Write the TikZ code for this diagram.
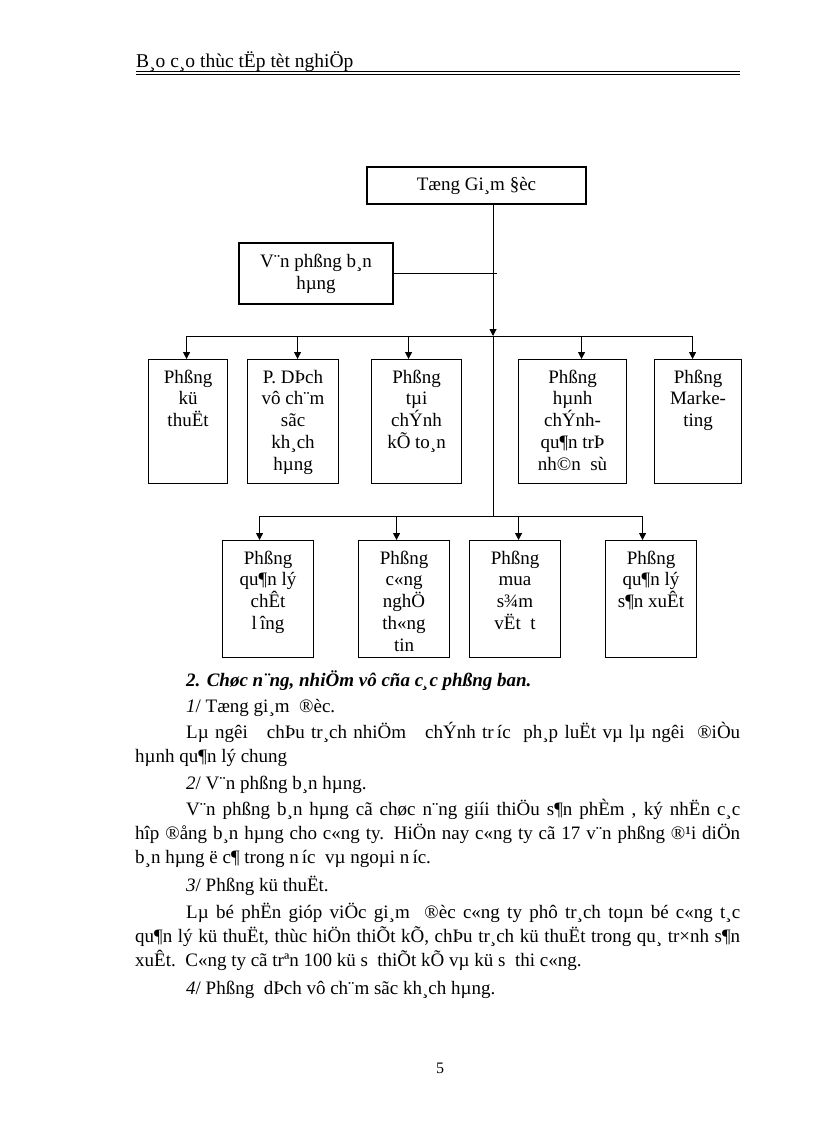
\documentclass[tikz,border=0pt]{standalone}
\usepackage{fontspec}
\setmainfont{Liberation Serif}
\usetikzlibrary{arrows.meta, positioning}

\newcommand{\boxfont}{\fontsize{19}{21.8}\selectfont}
\newcommand{\bodyfont}{\fontsize{19}{24}\selectfont}
% top-aligned text inside a fixed box
\newcommand{\cell}[3]{\parbox[c][#2][t]{#1}{\centering\vspace*{8.2pt}\strut #3\par}}

\begin{document}
\begin{tikzpicture}[x=1pt, y=-1pt,
    orgbox/.style = {draw, line width=1.1pt, inner sep=0pt, font=\boxfont, anchor=north west},
    headbox/.style = {draw, line width=1.1pt, inner sep=0pt, font=\boxfont, align=center},
    arr/.style    = {-{Triangle[length=7pt, width=7pt]}, line width=1pt},
    link/.style   = {line width=1pt},
    txt/.style    = {anchor=base west, inner sep=0pt, font=\bodyfont}
  ]
  \useasboundingbox (0,0) rectangle (816,1123);

  % ── Page header ───────────────────────────────────────────────────────────
  \node[txt, font=\fontsize{19.5}{24}\selectfont] (hdr) at (136,68) {B¸o c¸o thùc tËp tèt nghiÖp};
  \draw[line width=1.6pt] (136,71.5) -- (740,71.5);
  \draw[line width=0.8pt] (136,74.5) -- (740,74.5);

  % ── Top level ─────────────────────────────────────────────────────────────
  \node[headbox, minimum width=219pt, minimum height=37pt] (gd)   at (476.5,185.5) {Tæng Gi¸m §èc};
  \node[headbox, minimum width=154pt, minimum height=61pt] (vpbh) at (316,273.5)   {V¨n phßng b¸n\\hµng};

  % ── First row of departments ──────────────────────────────────────────────
  \node[orgbox] (kythuat)   at (148,359) {\cell{79pt}{124pt}{Phßng\\kü\\thuËt}};
  \node[orgbox] (dichvu)    at (247,359) {\cell{91pt}{124pt}{P. DÞch\\vô ch¨m\\sãc\\kh¸ch\\hµng}};
  \node[orgbox] (taichinh)  at (371,359) {\cell{90pt}{124pt}{Phßng\\tµi\\chÝnh\\kÕ to¸n}};
  \node[orgbox] (hanhchinh) at (518,359) {\cell{108pt}{124pt}{Phßng\\hµnh\\chÝnh-\\qu¶n trÞ\\nh©n\ \ sù}};
  \node[orgbox] (marketing) at (654,359) {\cell{87pt}{124pt}{Phßng\\Marke-\\ting}};

  % ── Second row of departments ─────────────────────────────────────────────
  \node[orgbox] (chatluong) at (222,540) {\cell{91pt}{117pt}{Phßng\\qu¶n lý\\chÊt\\l\,îng}};
  \node[orgbox] (congnghe)  at (358,540) {\cell{91pt}{117pt}{Phßng\\c«ng\\nghÖ\\th«ng\\tin}};
  \node[orgbox] (muasam)    at (469,540) {\cell{91pt}{117pt}{Phßng\\mua\\s¾m\\vËt\ \ t}};
  \node[orgbox] (sanxuat)   at (605,540) {\cell{91pt}{117pt}{Phßng\\qu¶n lý\\s¶n xuÊt}};

  % ── Connectors ────────────────────────────────────────────────────────────
  \coordinate (bus1) at (493,336);
  \coordinate (bus2) at (493,516);
  \draw[arr] ([xshift=16.5pt]gd.south) -- (bus1);
  \draw[link] (bus1) -- (bus2);
  \draw[link, shorten >=-4pt] (vpbh.east) -- (vpbh.east -| bus1);

  \draw[link] ([xshift=-1.5pt]kythuat.north |- bus1) -- ([xshift=-5.5pt]marketing.north |- bus1);
  \foreach \n/\dx in {kythuat/-1.5, dichvu/4.5, taichinh/-8, hanhchinh/9, marketing/-5.5}
    \draw[arr] ([xshift=\dx pt]\n.north |- bus1) -- ([xshift=\dx pt]\n.north);

  \draw[link] ([xshift=-8.5pt]chatluong.north |- bus2) -- ([xshift=-8.5pt]sanxuat.north |- bus2);
  \foreach \n/\dx in {chatluong/-8.5, congnghe/-7.5, muasam/3.5, sanxuat/-8.5}
    \draw[arr] ([xshift=\dx pt]\n.north |- bus2) -- ([xshift=\dx pt]\n.north);

  % ── Body text ─────────────────────────────────────────────────────────────
  \node[txt] (t1)  at (186,686) {\textbf{\textit{2. Chøc n¨ng, nhiÖm vô cña c¸c phßng ban.}}};
  \node[txt] (t2)  at (186,712) {\textit{1}/ Tæng gi¸m\ \ ®èc.};
  \node[txt] (t3)  at (186,738) {\makebox[554pt][s]{Lµ ngêi\ \ \ chÞu tr¸ch nhiÖm\ \ \ chÝnh tr\,íc\ \ ph¸p luËt vµ lµ ngêi\ \ ®iÒu}};
  \node[txt] (t4)  at (135,762) {hµnh qu¶n lý chung};
  \node[txt] (t5)  at (186,789) {\textit{2}/ V¨n phßng b¸n hµng.};
  \node[txt] (t6)  at (186,815) {\makebox[554pt][s]{V¨n phßng b¸n hµng cã chøc n¨ng giíi thiÖu s¶n phÈm , ký nhËn c¸c}};
  \node[txt] (t7)  at (135,839) {\makebox[605pt][s]{hîp ®ång b¸n hµng cho c«ng ty. HiÖn nay c«ng ty cã 17 v¨n phßng ®¹i diÖn}};
  \node[txt] (t8)  at (135,863) {b¸n hµng ë c¶ trong n\,íc\ \ vµ ngoµi n\,íc.};
  \node[txt] (t9)  at (186,891) {\textit{3}/ Phßng kü thuËt.};
  \node[txt] (t10) at (186,918) {\makebox[554pt][s]{Lµ bé phËn gióp viÖc gi¸m\ \ ®èc c«ng ty phô tr¸ch toµn bé c«ng t¸c}};
  \node[txt] (t11) at (135,942) {\makebox[605pt][s]{qu¶n lý kü thuËt, thùc hiÖn thiÕt kÕ, chÞu tr¸ch kü thuËt trong qu¸ tr×nh s¶n}};
  \node[txt] (t12) at (135,966) {xuÊt.\ \ C«ng ty cã trªn 100 kü s\ \ thiÕt kÕ vµ kü s\ \ thi c«ng.};
  \node[txt] (t13) at (186,994) {\textit{4}/ Phßng\ \ dÞch vô ch¨m sãc kh¸ch hµng.};

  % ── Page number ───────────────────────────────────────────────────────────
  \node[anchor=base, inner sep=0pt, font=\fontsize{16}{18}\selectfont] (pgno) at (440,1073) {5};

\end{tikzpicture}
\end{document}
